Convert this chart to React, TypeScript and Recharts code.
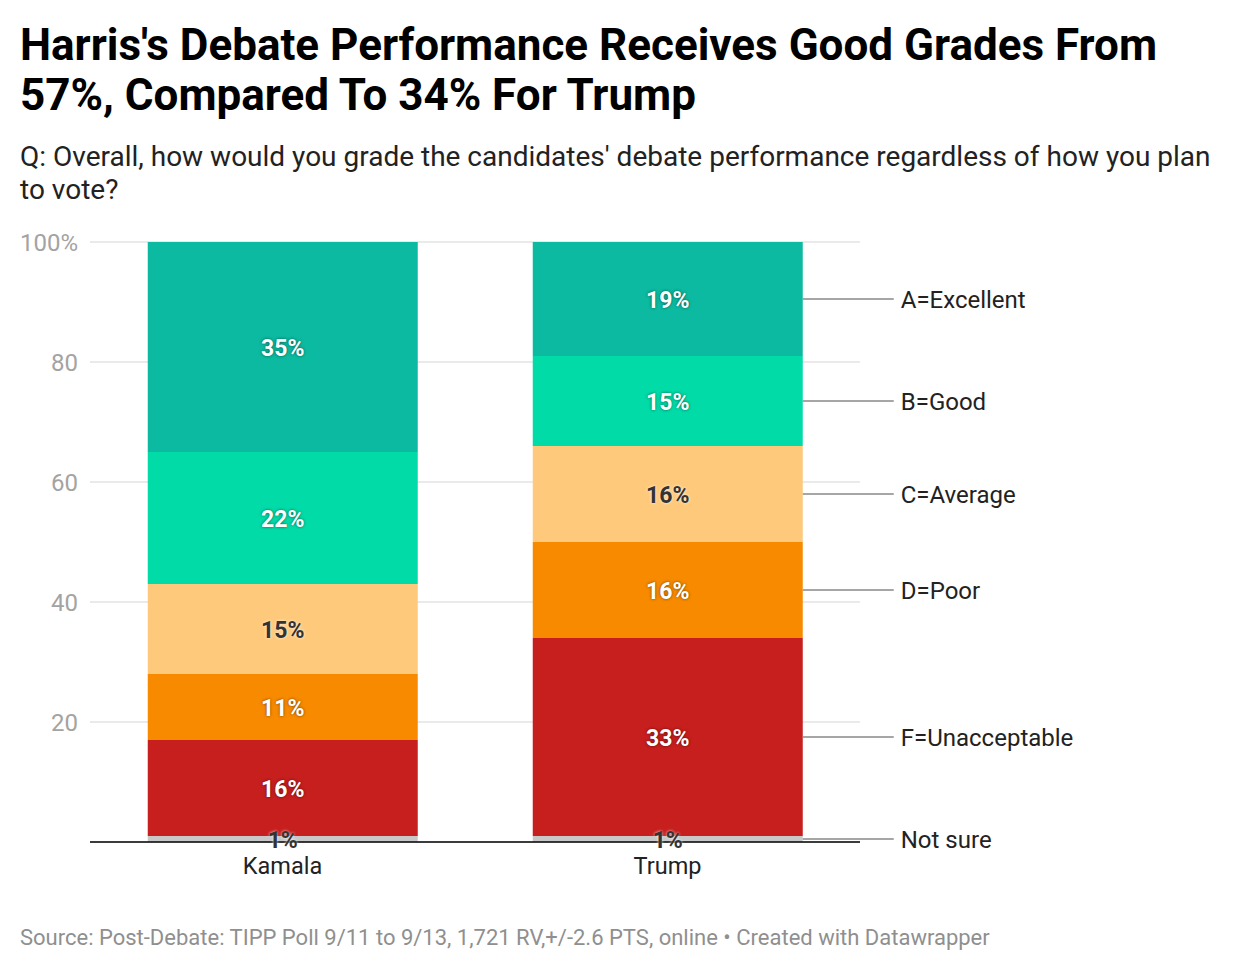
import React from "react";
import { BarChart, Bar, XAxis, YAxis, CartesianGrid, LabelList } from "recharts";

const categories = ["Kamala", "Trump"];
const notSure = [1, 1];
const gradeF = [16, 33];
const gradeD = [11, 16];
const gradeC = [15, 16];
const gradeB = [22, 15];
const gradeA = [35, 19];
const yTicks = [0, 20, 40, 60, 80, 100];

// bottom of the stack first
const series = [
  { key: "notSure", name: "Not sure", values: notSure, color: "#c8c8c8", dark: true },
  { key: "f", name: "F=Unacceptable", values: gradeF, color: "#c71e1e", dark: false },
  { key: "d", name: "D=Poor", values: gradeD, color: "#f88a00", dark: false },
  { key: "c", name: "C=Average", values: gradeC, color: "#fec97b", dark: true },
  { key: "b", name: "B=Good", values: gradeB, color: "#00dba8", dark: false },
  { key: "a", name: "A=Excellent", values: gradeA, color: "#0bbaa0", dark: false },
];

const data = categories.map((name, i) => {
  const row: any = { name };
  series.forEach((s) => (row[s.key] = s.values[i]));
  return row;
});

const makeLabel = (s: (typeof series)[number]) => (props: any) => {
  const { x, y, width, height, value, index } = props;
  const cx = Number(x) + Number(width) / 2;
  const cy = Number(y) + Number(height) / 2;
  const right = Number(x) + Number(width);
  return (
    <g>
      <text
        x={cx}
        y={cy + 1}
        textAnchor="middle"
        dominantBaseline="central"
        fontFamily="Roboto"
        fontWeight={700}
        fontSize={23}
        fill={s.dark ? "#333333" : "#ffffff"}
        style={{
          textShadow: s.dark
            ? "0 0 3px rgba(255,255,255,0.9)"
            : "0 0 3px rgba(0,0,0,0.55)",
        }}
      >
        {value}%
      </text>
      {index === categories.length - 1 && (
        <g>
          <line x1={right} y1={cy} x2={right + 91} y2={cy} stroke="#888888" strokeWidth={1.5} />
          <text
            x={right + 98}
            y={cy + 1}
            dominantBaseline="central"
            fontFamily="Roboto"
            fontSize={24}
            fill="#222222"
          >
            {s.name}
          </text>
        </g>
      )}
    </g>
  );
};

export default function App() {
  return (
    <div
      style={{
        position: "absolute",
        left: 0,
        top: 0,
        width: 1240,
        height: 972,
        background: "#ffffff",
        fontFamily: "Roboto, sans-serif",
        overflow: "hidden",
      }}
    >
      <div
        style={{
          position: "absolute",
          left: 20,
          top: 20,
          fontSize: 44,
          lineHeight: "50px",
          fontWeight: 700,
          color: "#000000",
          whiteSpace: "nowrap",
        }}
      >
        Harris's Debate Performance Receives Good Grades From
        <br />
        57%, Compared To 34% For Trump
      </div>
      <div
        style={{
          position: "absolute",
          left: 20,
          top: 140,
          fontSize: 28,
          lineHeight: "33px",
          color: "#222222",
          whiteSpace: "nowrap",
        }}
      >
        Q: Overall, how would you grade the candidates' debate performance regardless of how you plan
        <br />
        to vote?
      </div>

      <div style={{ position: "absolute", left: 0, top: 0 }}>
        <BarChart
          width={1240}
          height={972}
          data={data}
          margin={{ top: 242, right: 380, bottom: 100, left: 20 }}
          barCategoryGap="15%"
        >
          <CartesianGrid vertical={false} stroke="#e3e3e3" strokeWidth={1.5} />
          <XAxis
            dataKey="name"
            height={30}
            tickLine={false}
            tickSize={0}
            tickMargin={15}
            axisLine={{ stroke: "#000000", strokeWidth: 1.5 }}
            tick={{ fontFamily: "Roboto", fontSize: 23.5, fill: "#222222" }}
          />
          <YAxis
            width={70}
            domain={[0, 100]}
            ticks={yTicks}
            interval={0}
            axisLine={false}
            tickLine={false}
            tickSize={0}
            tickMargin={12}
            tickFormatter={(v: number) => (v === 0 ? "" : v === 100 ? "100%" : String(v))}
            tick={{ fontFamily: "Roboto", fontSize: 24, fill: "#a3a3a3" }}
          />
          {series.map((s) => (
            <Bar
              key={s.key}
              dataKey={s.key}
              stackId="grade"
              fill={s.color}
              isAnimationActive={false}
            >
              <LabelList dataKey={s.key} content={makeLabel(s)} />
            </Bar>
          ))}
        </BarChart>
      </div>

      <div
        style={{
          position: "absolute",
          left: 20,
          top: 926,
          fontSize: 22,
          lineHeight: "24px",
          color: "#8f8f8f",
          whiteSpace: "nowrap",
        }}
      >
        Source: Post-Debate: TIPP Poll 9/11 to 9/13, 1,721 RV,+/-2.6 PTS, online • Created with Datawrapper
      </div>
    </div>
  );
}
